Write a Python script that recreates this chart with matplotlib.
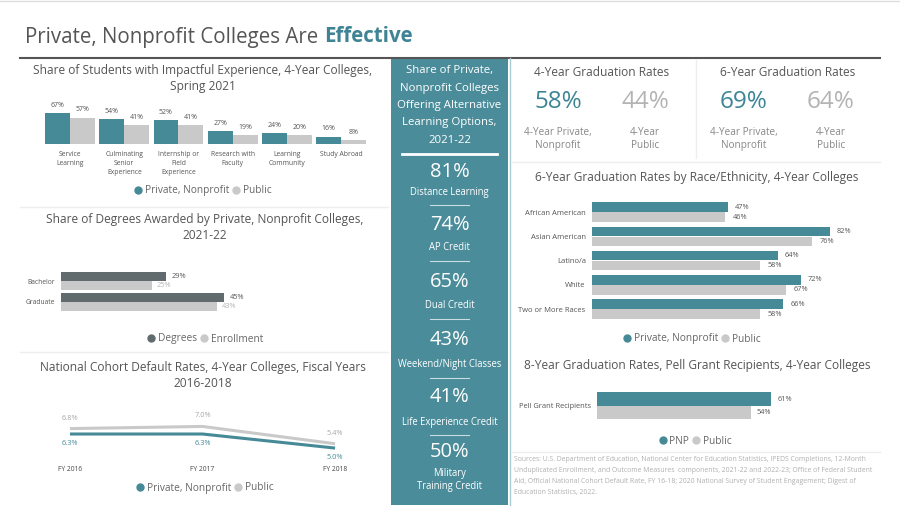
import numpy as np
import matplotlib.pyplot as plt
from matplotlib.lines import Line2D

plt.rcParams['font.family'] = ['Open Sans', 'DejaVu Sans']

W, H = 900, 517
TEAL = '#468A97'
COL_BG = '#4A8C99'
LGRAY = '#C9C9C9'
DGRAY = '#616B6E'
TXT = '#555555'

# --- data ---
exp_cats = ['Service\nLearning', 'Culminating\nSenior\nExperience', 'Internship or\nField\nExperience',
            'Research with\nFaculty', 'Learning\nCommunity', 'Study Abroad']
exp_pnp = [67, 54, 52, 27, 24, 16]
exp_pub = [57, 41, 41, 19, 20, 8]

deg_cats = ['Bachelor', 'Graduate']
deg_share = [29, 45]
enr_share = [25, 43]

fy_labels = ['FY 2016', 'FY 2017', 'FY 2018']
cdr_pnp = [6.3, 6.3, 5.0]
cdr_pub = [6.8, 7.0, 5.4]

alt_labels = ['Distance Learning', 'AP Credit', 'Dual Credit', 'Weekend/Night Classes',
              'Life Experience Credit', 'Military\nTraining Credit']
alt_values = [81, 74, 65, 43, 41, 50]

grad4 = [58, 44]
grad6 = [69, 64]

race_cats = ['African American', 'Asian American', 'Latino/a', 'White', 'Two or More Races']
race_pnp = [47, 82, 64, 72, 66]
race_pub = [46, 76, 58, 67, 58]

pell_pnp = [61]
pell_pub = [54]

sources = ("Sources: U.S. Department of Education, National Center for Education Statistics, IPEDS Completions, 12-Month\n"
           "Unduplicated Enrollment, and Outcome Measures  components, 2021-22 and 2022-23; Office of Federal Student\n"
           "Aid, Official National Cohort Default Rate, FY 16-18; 2020 National Survey of Student Engagement; Digest of\n"
           "Education Statistics, 2022.")

fig = plt.figure(figsize=(W / 100, H / 100), dpi=100)


def px_axes(x, y, w, h, **kw):
    return fig.add_axes([x / W, 1 - (y + h) / H, w / W, h / H], **kw)


def clean(ax):
    for s in ax.spines.values():
        s.set_visible(False)
    ax.set_facecolor('none')


def legend(x, y, items, fs=7.3):
    handles = [Line2D([], [], ls='', marker='o', ms=5, color=c) for _, c in items]
    fig.legend(handles, [t for t, _ in items], loc='center', bbox_to_anchor=(x / W, 1 - y / H),
               ncol=len(items), frameon=False, fontsize=fs, handletextpad=0.25,
               columnspacing=0.3, handlelength=0.8, labelcolor='#666666', borderpad=0)


# background overlay in pixel coords
bg = px_axes(0, 0, W, H)
bg.set_xlim(0, W)
bg.set_ylim(H, 0)
bg.axis('off')

bg.plot([0, W], [1, 1], color='#DDDDDD', lw=1)
bg.text(25, 37, 'Private, Nonprofit Colleges Are ', fontsize=14.8, color=TXT, va='center')
t = bg.text(25, 37, 'Private, Nonprofit Colleges Are ', fontsize=14.8, color='none', va='center')
fig.canvas.draw()
bb = t.get_window_extent()
bg.text(25 + bb.width, 37, 'Effective', fontsize=14.8, color='#3E8494', va='center', fontweight='bold')
bg.plot([20, 880], [57.5, 57.5], color='#555555', lw=1.5)

# separators
for yy in (207, 352):
    bg.plot([20, 388], [yy, yy], color='#EEEEEE', lw=1)
bg.plot([512, 880], [162, 162], color='#EEEEEE', lw=1)
bg.plot([512, 880], [452, 452], color='#EEEEEE', lw=1)
bg.plot([696, 696], [60, 158], color='#EEEEEE', lw=1)
bg.plot([509.5, 509.5], [58, 505], color='#A9CCD3', lw=1)

# teal column
bg.add_patch(plt.Rectangle((391, 58), 117, 447, color=COL_BG, lw=0))
col_title = ['Share of Private,', 'Nonprofit Colleges', 'Offering Alternative', 'Learning Options,', '2021-22']
for i, line in enumerate(col_title):
    bg.text(449.5, 71 + 17.3 * i, line, color='white', fontsize=8.2, ha='center', va='center')
bg.plot([402, 497], [154, 154], color='white', lw=2)
num_y = [172, 225, 282, 340, 397, 452]
lab_y = [192, 248, 306, 365, 422, 480]
for i, (v, lab) in enumerate(zip(alt_values, alt_labels)):
    bg.text(449.5, num_y[i], f'{v}%', color='white', fontsize=14.5, ha='center', va='center')
    bg.text(449.5, lab_y[i], lab, color='white', fontsize=6.85, ha='center', va='center', linespacing=1.35)
    if i < len(alt_values) - 1:
        bg.plot([430, 469], [lab_y[i] + 12.5, lab_y[i] + 12.5], color='#C9DDE1', lw=0.8)

# KPI cards
for cx, title, vals in ((602, '4-Year Graduation Rates', grad4), (788, '6-Year Graduation Rates', grad6)):
    bg.text(cx, 72, title, fontsize=8.6, color=TXT, ha='center', va='center')
    bg.text(cx - 44, 102, f'{vals[0]}%', fontsize=17.5, color='#3D8595', ha='center', va='center')
    bg.text(cx + 43, 102, f'{vals[1]}%', fontsize=17.5, color='#B3B3B3', ha='center', va='center')
    bg.text(cx - 44, 139, '4-Year Private,\nNonprofit', fontsize=7.2, color='#888888', ha='center',
            va='center', linespacing=1.35)
    bg.text(cx + 43, 139, '4-Year\nPublic', fontsize=7.2, color='#888888', ha='center',
            va='center', linespacing=1.35)

# panel titles
bg.text(203, 78.5, 'Share of Students with Impactful Experience, 4-Year Colleges,\nSpring 2021',
        fontsize=8.55, color=TXT, ha='center', va='center', linespacing=1.35)
bg.text(205, 227.5, 'Share of Degrees Awarded by Private, Nonprofit Colleges,\n2021-22',
        fontsize=8.55, color=TXT, ha='center', va='center', linespacing=1.35)
bg.text(203, 375.5, 'National Cohort Default Rates, 4-Year Colleges, Fiscal Years\n2016-2018',
        fontsize=8.55, color=TXT, ha='center', va='center', linespacing=1.35)
bg.text(697, 177, '6-Year Graduation Rates by Race/Ethnicity, 4-Year Colleges',
        fontsize=8.55, color=TXT, ha='center', va='center')
bg.text(697, 366, '8-Year Graduation Rates, Pell Grant Recipients, 4-Year Colleges',
        fontsize=8.55, color=TXT, ha='center', va='center')
bg.text(514, 476, sources, fontsize=4.92, color='#B0B0B0', ha='left', va='center', linespacing=1.75)

# --- panel 1: grouped bars ---
ax1 = px_axes(43, 100, 325, 44)
clean(ax1)
x = np.arange(len(exp_cats))
bw = 0.46
b1 = ax1.bar(x - bw / 2, exp_pnp, bw, color=TEAL)
b2 = ax1.bar(x + bw / 2, exp_pub, bw, color=LGRAY)
for bars, vals in ((b1, exp_pnp), (b2, exp_pub)):
    for b, v in zip(bars, vals):
        ax1.annotate(f'{v}%', (b.get_x() + b.get_width() / 2, v), xytext=(0, 3),
                     textcoords='offset points', ha='center', va='bottom', fontsize=5, color='#555555')
ax1.set_xlim(-0.5, 5.5)
ax1.set_ylim(0, 95)
ax1.set_yticks([])
ax1.set_xticks(x, exp_cats, fontsize=4.9, color='#555555', linespacing=1.4, va='top')
ax1.tick_params(axis='x', length=0, pad=5)
legend(203, 191, [('Private, Nonprofit', TEAL), ('Public', LGRAY)])

# --- panel 2: degrees horizontal bars ---
ax2 = px_axes(61, 260, 319, 63)
clean(ax2)
y = np.arange(len(deg_cats))
ax2.barh(y - 0.225, deg_share, 0.43, color=DGRAY)
ax2.barh(y + 0.215, enr_share, 0.41, color=LGRAY)
for yi, v in zip(y, deg_share):
    ax2.annotate(f'{v}%', (v, yi - 0.2), xytext=(4, 0), textcoords='offset points',
                 va='center', fontsize=5.3, color='#555555')
for yi, v in zip(y, enr_share):
    ax2.annotate(f'{v}%', (v, yi + 0.2), xytext=(4, 0), textcoords='offset points',
                 va='center', fontsize=5.3, color='#B5B5B5')
ax2.set_xlim(0, 88.1)
ax2.set_ylim(2, -1)
ax2.set_xticks([])
ax2.set_yticks(y, deg_cats, fontsize=4.9, color='#555555')
ax2.tick_params(axis='y', length=0, pad=4)
legend(205, 339, [('Degrees', DGRAY), ('Enrollment', LGRAY)])

# --- panel 3: default rate lines ---
ax3 = px_axes(62, 410, 281, 45)
clean(ax3)
xf = np.arange(len(fy_labels))
ax3.plot(xf, cdr_pub, color=LGRAY, lw=2.2, solid_capstyle='butt')
ax3.plot(xf, cdr_pnp, color=TEAL, lw=2.2, solid_capstyle='butt')
for xi, v in zip(xf, cdr_pub):
    ax3.annotate(f'{v:.1f}%', (xi, v), xytext=(0, 5), textcoords='offset points',
                 ha='center', va='bottom', fontsize=5.3, color='#A8A8A8')
for xi, v in zip(xf, cdr_pnp):
    ax3.annotate(f'{v:.1f}%', (xi, v), xytext=(0, -4.5), textcoords='offset points',
                 ha='center', va='top', fontsize=5.3, color=TEAL)
ax3.set_xlim(-0.06, 2.06)
ax3.set_ylim(4.36, 8.52)
ax3.set_yticks([])
ax3.set_xticks(xf, fy_labels, fontsize=4.8, color='#444444')
ax3.tick_params(axis='x', length=0, pad=8)
legend(205, 488, [('Private, Nonprofit', TEAL), ('Public', LGRAY)])

# --- race / ethnicity bars ---
ax4 = px_axes(592, 200, 288, 122)
clean(ax4)
yr = np.arange(len(race_cats))
ax4.barh(yr - 0.2, race_pnp, 0.39, color=TEAL)
ax4.barh(yr + 0.21, race_pub, 0.39, color=LGRAY)
for yi, v in zip(yr, race_pnp):
    ax4.annotate(f'{v}%', (v, yi - 0.2), xytext=(5, 0), textcoords='offset points',
                 va='center', fontsize=5.3, color='#555555')
for yi, v in zip(yr, race_pub):
    ax4.annotate(f'{v}%', (v, yi + 0.21), xytext=(5, 0), textcoords='offset points',
                 va='center', fontsize=5.3, color='#555555')
ax4.set_xlim(0, 99.3)
ax4.set_ylim(4.536, -0.495)
ax4.set_xticks([])
ax4.set_yticks(yr, race_cats, fontsize=5.5, color='#555555')
ax4.tick_params(axis='y', length=0, pad=4.5)
legend(692, 339, [('Private, Nonprofit', TEAL), ('Public', LGRAY)])

# --- pell grant bars ---
ax5 = px_axes(597, 385, 283, 42)
clean(ax5)
ax5.barh([-0.33], pell_pnp, 0.64, color=TEAL)
ax5.barh([0.33], pell_pub, 0.62, color=LGRAY)
ax5.annotate(f'{pell_pnp[0]}%', (pell_pnp[0], -0.33), xytext=(5, 0), textcoords='offset points',
             va='center', fontsize=5.3, color='#555555')
ax5.annotate(f'{pell_pub[0]}%', (pell_pub[0], 0.33), xytext=(4, 0), textcoords='offset points',
             va='center', fontsize=5.3, color='#555555')
ax5.set_xlim(0, 99.3)
ax5.set_ylim(1, -1)
ax5.set_xticks([])
ax5.set_yticks([0], ['Pell Grant Recipients'], fontsize=5.4, color='#555555')
ax5.tick_params(axis='y', length=0, pad=4.5)
legend(695, 441, [('PNP', TEAL), ('Public', LGRAY)])

fig.savefig('out.png', dpi=100)
